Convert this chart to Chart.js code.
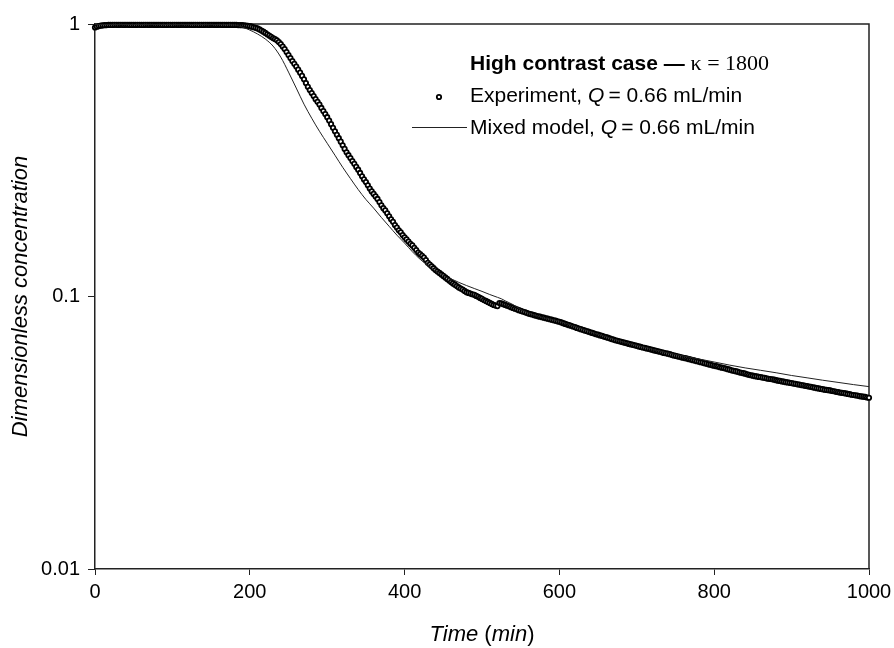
<!DOCTYPE html>
<html><head><meta charset="utf-8">
<script src="https://cdn.jsdelivr.net/npm/chart.js@4.4.1/dist/chart.umd.min.js"></script>
<style>html,body{margin:0;padding:0;background:#fff}#wrap{width:894px;height:648px;position:relative}canvas{display:block}</style>
</head><body><div id="wrap"><canvas id="c" width="894" height="648" style="width:894px;height:648px"></canvas></div>
<script>
const expTime = [
0,2.5,5,7.5,10,12.5,15,17.5,20,22.5,25,27.5,30,32.5,35,37.5,40,42.5,45,47.5,
50,52.5,55,57.5,60,62.5,65,67.5,70,72.5,75,77.5,80,82.5,85,87.5,90,92.5,95,97.5,
100,102.5,105,107.5,110,112.5,115,117.5,120,122.5,125,127.5,130,132.5,135,137.5,140,142.5,145,147.5,
150,152.5,155,157.5,160,162.5,165,167.5,170,172.5,175,177.5,180,182.5,185,187.5,190,192.5,195,197.5,
200,202.5,205,207.5,210,212.5,215,217.5,220,222.5,225,227.5,230,232.5,235,237.5,240,242.5,245,247.5,
250,252.5,255,257.5,260,262.5,265,267.5,270,272.5,275,277.5,280,282.5,285,287.5,290,292.5,295,297.5,
300,302.5,305,307.5,310,312.5,315,317.5,320,322.5,325,327.5,330,332.5,335,337.5,340,342.5,345,347.5,
350,352.5,355,357.5,360,362.5,365,367.5,370,372.5,375,377.5,380,382.5,385,387.5,390,392.5,395,397.5,
400,402.5,405,407.5,410,412.5,415,417.5,420,422.5,425,427.5,430,432.5,435,437.5,440,442.5,445,447.5,
450,452.5,455,457.5,460,462.5,465,467.5,470,472.5,475,477.5,480,482.5,485,487.5,490,492.5,495,497.5,
500,502.5,505,507.5,510,512.5,515,517.5,520,522.5,525,527.5,530,532.5,535,537.5,540,542.5,545,547.5,
550,552.5,555,557.5,560,562.5,565,567.5,570,572.5,575,577.5,580,582.5,585,587.5,590,592.5,595,597.5,
600,602.5,605,607.5,610,612.5,615,617.5,620,622.5,625,627.5,630,632.5,635,637.5,640,642.5,645,647.5,
650,652.5,655,657.5,660,662.5,665,667.5,670,672.5,675,677.5,680,682.5,685,687.5,690,692.5,695,697.5,
700,702.5,705,707.5,710,712.5,715,717.5,720,722.5,725,727.5,730,732.5,735,737.5,740,742.5,745,747.5,
750,752.5,755,757.5,760,762.5,765,767.5,770,772.5,775,777.5,780,782.5,785,787.5,790,792.5,795,797.5,
800,802.5,805,807.5,810,812.5,815,817.5,820,822.5,825,827.5,830,832.5,835,837.5,840,842.5,845,847.5,
850,852.5,855,857.5,860,862.5,865,867.5,870,872.5,875,877.5,880,882.5,885,887.5,890,892.5,895,897.5,
900,902.5,905,907.5,910,912.5,915,917.5,920,922.5,925,927.5,930,932.5,935,937.5,940,942.5,945,947.5,
950,952.5,955,957.5,960,962.5,965,967.5,970,972.5,975,977.5,980,982.5,985,987.5,990,992.5,995,997.5,
1000];
const expConc = [
0.971,0.978,0.983,0.986,0.989,0.990,0.991,0.992,0.992,0.992,0.993,0.993,0.992,0.993,0.993,0.992,0.993,0.993,0.992,0.992,
0.993,0.992,0.993,0.993,0.992,0.992,0.993,0.993,0.992,0.993,0.993,0.992,0.992,0.993,0.993,0.992,0.993,0.992,0.993,0.993,
0.992,0.993,0.993,0.992,0.992,0.993,0.993,0.992,0.993,0.993,0.992,0.992,0.993,0.993,0.992,0.993,0.992,0.993,0.993,0.992,
0.993,0.993,0.992,0.992,0.993,0.993,0.992,0.993,0.992,0.992,0.993,0.992,0.992,0.992,0.991,0.991,0.990,0.989,0.987,0.985,
0.983,0.978,0.973,0.968,0.963,0.955,0.946,0.937,0.927,0.917,0.907,0.897,0.888,0.881,0.871,0.859,0.844,0.827,0.809,0.789,
0.769,0.750,0.731,0.714,0.698,0.680,0.663,0.645,0.627,0.607,0.588,0.572,0.558,0.544,0.530,0.518,0.506,0.492,0.479,0.467,
0.455,0.442,0.429,0.416,0.404,0.392,0.381,0.370,0.359,0.348,0.338,0.330,0.322,0.314,0.307,0.299,0.292,0.284,0.276,0.269,
0.263,0.256,0.249,0.243,0.238,0.233,0.228,0.222,0.216,0.211,0.207,0.202,0.197,0.192,0.188,0.183,0.179,0.175,0.172,0.168,
0.165,0.162,0.159,0.156,0.154,0.151,0.148,0.145,0.143,0.141,0.139,0.136,0.133,0.131,0.129,0.127,0.125,0.1235,0.122,0.1205,
0.119,0.1175,0.116,0.1145,0.113,0.1117,0.1105,0.1092,0.108,0.107,0.106,0.1048,0.1037,0.1031,0.1025,0.1019,0.1014,0.1005,0.0997,0.0988,
0.0980,0.0971,0.0963,0.0955,0.0947,0.0939,0.0931,0.0926,0.0922,0.0946,0.0943,0.0937,0.0931,0.0925,0.0920,0.0914,0.0908,0.0902,0.0897,0.0891,
0.0886,0.0881,0.0877,0.0871,0.0866,0.0862,0.0859,0.0854,0.0850,0.0846,0.0843,0.0839,0.0836,0.0832,0.0829,0.0825,0.0822,0.0818,0.0815,0.0811,
0.0808,0.0803,0.0798,0.0793,0.0789,0.0785,0.0781,0.0776,0.0772,0.0767,0.0763,0.0759,0.0755,0.0751,0.0747,0.0743,0.0739,0.0735,0.0731,0.0727,
0.0724,0.0720,0.0717,0.0713,0.0710,0.0706,0.0702,0.0698,0.0695,0.0691,0.0688,0.0685,0.0682,0.0679,0.0676,0.0673,0.0670,0.0667,0.0665,0.0662,
0.0659,0.0656,0.0653,0.0650,0.0648,0.0645,0.0643,0.0640,0.0637,0.0634,0.0632,0.0629,0.0627,0.0624,0.0621,0.0619,0.0617,0.0614,0.0611,0.0608,
0.0606,0.0603,0.0601,0.0598,0.0596,0.0594,0.0592,0.0589,0.0587,0.0584,0.0582,0.0579,0.0577,0.0574,0.0572,0.0569,0.0567,0.0564,0.0562,0.0559,
0.0557,0.0555,0.0553,0.0550,0.0548,0.0546,0.0544,0.0541,0.0539,0.0536,0.0534,0.0532,0.0530,0.0527,0.0525,0.0523,0.0521,0.0518,0.0516,0.0514,
0.0512,0.0510,0.0509,0.0507,0.0506,0.0504,0.0503,0.0501,0.0499,0.0498,0.0497,0.0495,0.0493,0.0491,0.0490,0.0488,0.0487,0.0485,0.0484,0.0482,
0.0481,0.0479,0.0478,0.0476,0.0475,0.0473,0.0472,0.0470,0.0469,0.0467,0.0466,0.0464,0.0463,0.0461,0.0460,0.0458,0.0457,0.0455,0.0454,0.0453,
0.0452,0.0450,0.0449,0.0447,0.0446,0.0444,0.0443,0.0442,0.0441,0.0439,0.0438,0.0436,0.0435,0.0434,0.0433,0.0431,0.0430,0.0429,0.0428,0.0426,
0.0425];

const modelTime = [0,50,100,150,180,190,200,210,220,230,240,250,260,270,280,290,300,310,320,330,
340,350,360,370,380,390,400,410,420,430,440,450,455,460,470,480,490,500,510,520,
525,530,540,550,560,570,580,600,620,640,660,680,700,720,740,760,780,800,820,840,
860,880,900,920,940,960,980,1000];
const modelConc = [0.996,0.996,0.996,0.995,0.992,0.975,0.950,0.919,0.881,0.830,0.756,0.666,0.582,0.508,0.451,0.404,0.365,0.330,0.298,0.271,
0.247,0.227,0.211,0.195,0.181,0.168,0.157,0.146,0.137,0.130,0.124,0.1196,0.117,0.116,0.1127,0.1097,0.1070,0.1044,0.1017,0.0993,
0.0981,0.0964,0.0934,0.0896,0.0870,0.0852,0.0834,0.0812,0.0776,0.0743,0.0712,0.0684,0.0662,0.0641,0.0621,0.0605,0.0590,0.0575,0.0560,0.0547,
0.0536,0.0525,0.0513,0.0503,0.0493,0.0484,0.0475,0.0467];

const xTicks = [0,200,400,600,800,1000];
const xTickLabels = ['0','200','400','600','800','1000'];
const yTicks = [0.01,0.1,1];
const yTickLabels = ['0.01','0.1','1'];

const SANS = '"Liberation Sans", Arial, sans-serif';
const SERIF = '"Liberation Serif", "Times New Roman", serif';
const INK = '#000';

function drawRuns(ctx, x, y, runs, align) {
  let total = 0;
  runs.forEach(r => { ctx.font = r.font; r.w = ctx.measureText(r.text).width; total += r.w; });
  let cx = align === 'center' ? x - total / 2 : x;
  runs.forEach(r => { ctx.font = r.font; ctx.fillText(r.text, cx, y); cx += r.w; });
}

const deco = {
  id: 'deco',
  beforeDatasetsDraw(chart) {
    const {ctx, chartArea: a} = chart;
    ctx.save();
    ctx.strokeStyle = '#222'; ctx.lineWidth = 1.5;
    ctx.beginPath();
    ctx.moveTo(a.left, a.top); ctx.lineTo(a.right, a.top); ctx.lineTo(a.right, a.bottom);
    ctx.stroke();
    ctx.restore();
  },
  afterDraw(chart) {
    const {ctx, chartArea: a} = chart;
    ctx.save();
    ctx.fillStyle = INK;
    ctx.textBaseline = 'alphabetic';
    ctx.textAlign = 'left';
    const cxm = (a.left + a.right) / 2;
    drawRuns(ctx, cxm, 641, [
      {text: 'Time ', font: 'italic 22px ' + SANS},
      {text: '(', font: '22px ' + SANS},
      {text: 'min', font: 'italic 22px ' + SANS},
      {text: ')', font: '22px ' + SANS}
    ], 'center');
    ctx.save();
    ctx.translate(27, (a.top + a.bottom) / 2);
    ctx.rotate(-Math.PI / 2);
    ctx.textAlign = 'center';
    ctx.font = 'italic 22px ' + SANS;
    ctx.fillText('Dimensionless concentration', 0, 0);
    ctx.restore();
    ctx.textAlign = 'left';
    drawRuns(ctx, 470, 70, [
      {text: 'High contrast case \u2014 ', font: 'bold 21px ' + SANS},
      {text: '\u03BA = 1800', font: '22px ' + SERIF}
    ]);
    drawRuns(ctx, 470, 102, [
      {text: 'Experiment, ', font: '21px ' + SANS},
      {text: 'Q', font: 'italic 21px ' + SANS},
      {text: '\u2009= 0.66 mL/min', font: '21px ' + SANS}
    ]);
    drawRuns(ctx, 470, 134, [
      {text: 'Mixed model, ', font: '21px ' + SANS},
      {text: 'Q', font: 'italic 21px ' + SANS},
      {text: '\u2009= 0.66 mL/min', font: '21px ' + SANS}
    ]);
    ctx.beginPath();
    ctx.arc(439, 97, 2.2, 0, Math.PI * 2);
    ctx.fillStyle = '#fff'; ctx.fill();
    ctx.strokeStyle = '#000'; ctx.lineWidth = 1.8; ctx.stroke();
    ctx.beginPath();
    ctx.moveTo(412, 127.5); ctx.lineTo(467, 127.5);
    ctx.strokeStyle = '#222'; ctx.lineWidth = 1; ctx.stroke();
    ctx.restore();
  }
};

new Chart(document.getElementById('c'), {
  type: 'scatter',
  data: {
    datasets: [
      {
        label: 'Mixed model, Q = 0.66 mL/min',
        data: modelTime.map((t, i) => ({x: t, y: modelConc[i]})),
        showLine: true,
        borderColor: '#222',
        borderWidth: 1,
        pointRadius: 0,
        cubicInterpolationMode: 'monotone',
        fill: false,
        order: 0
      },
      {
        label: 'Experiment, Q = 0.66 mL/min',
        data: expTime.map((t, i) => ({x: t, y: expConc[i]})),
        showLine: false,
        pointStyle: 'circle',
        pointRadius: 2.2,
        pointBorderWidth: 1.8,
        pointBorderColor: '#000',
        pointBackgroundColor: '#fff',
        clip: false,
        order: 1
      }
    ]
  },
  options: {
    responsive: false,
    animation: false,
    devicePixelRatio: 1,
    layout: {padding: {left: 0, top: 24, right: 25, bottom: 0}},
    plugins: {legend: {display: false}, tooltip: {enabled: false}, title: {display: false}},
    scales: {
      x: {
        type: 'linear', min: 0, max: 1000,
        afterBuildTicks: s => { s.ticks = xTicks.map(v => ({value: v})); },
        afterFit: s => { s.height = 79; s.paddingLeft = 0; s.paddingRight = 0; },
        grid: {display: true, drawOnChartArea: false, drawTicks: true, tickLength: 6, color: '#222', lineWidth: 1},
        border: {display: true, color: '#222', width: 1.5},
        ticks: {
          font: {family: SANS, size: 20}, color: INK, padding: 5, maxRotation: 0, autoSkip: false,
          callback: (v) => { const i = xTicks.indexOf(v); return i >= 0 ? xTickLabels[i] : ''; }
        }
      },
      y: {
        type: 'logarithmic', min: 0.01, max: 1,
        afterBuildTicks: s => { s.ticks = yTicks.map(v => ({value: v})); },
        afterFit: s => { s.width = 95; s.paddingTop = 0; s.paddingBottom = 0; },
        grid: {display: true, drawOnChartArea: false, drawTicks: true, tickLength: 7, color: '#222', lineWidth: 1},
        border: {display: true, color: '#222', width: 1.5},
        ticks: {
          font: {family: SANS, size: 20}, color: INK, padding: 8, autoSkip: false,
          callback: (v) => { const i = yTicks.indexOf(v); return i >= 0 ? yTickLabels[i] : ''; }
        }
      }
    }
  },
  plugins: [deco]
});
</script>
</body></html>
